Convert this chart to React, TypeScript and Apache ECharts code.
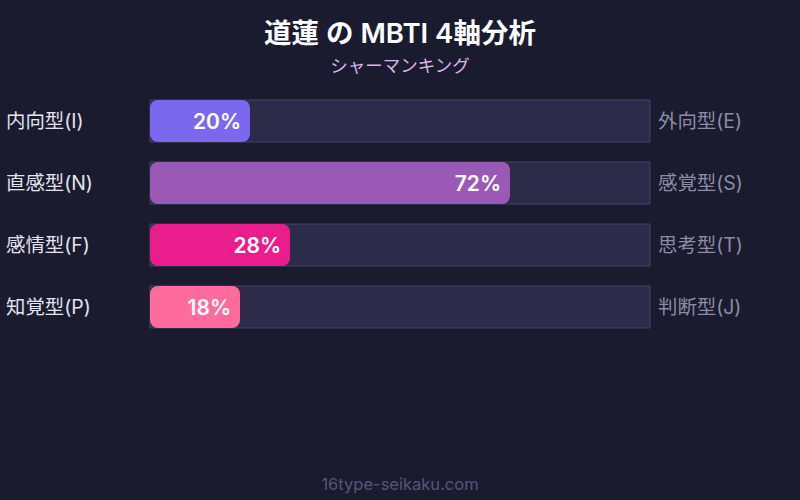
import * as echarts from "echarts";
import { useEffect, useRef } from "react";

const leftLabels = ["内向型(I)", "直感型(N)", "感情型(F)", "知覚型(P)"];
const rightLabels = ["外向型(E)", "感覚型(S)", "思考型(T)", "判断型(J)"];
const percentages = [20, 72, 28, 18];
const barColors = ["#7b68ee", "#9b59b6", "#e91e8c", "#ff6b9d"];

const fontFamily = "Inter, 'Noto Sans CJK JP', sans-serif";

function buildOption(): echarts.EChartsCoreOption {
  return {
    animation: false,
    backgroundColor: "#1a1b2e",
    textStyle: { fontFamily },
    title: [
      {
        text: "道蓮 の MBTI 4軸分析",
        left: "center",
        top: 14,
        textStyle: { color: "#ffffff", fontSize: 27.5, fontWeight: 600, fontFamily }
      },
      {
        text: "シャーマンキング",
        left: "center",
        top: 52,
        textStyle: { color: "#dcb4e8", fontSize: 17.5, fontWeight: "normal", fontFamily }
      },
      {
        text: "16type-seikaku.com",
        left: "center",
        top: 471,
        textStyle: { color: "#55577a", fontSize: 16.5, fontWeight: "normal", fontFamily }
      }
    ],
    grid: { left: 150, right: 150, top: 90, bottom: 162 },
    xAxis: {
      type: "value",
      min: 0,
      max: 100,
      show: false
    },
    yAxis: [
      {
        type: "category",
        data: leftLabels,
        inverse: true,
        axisLine: { show: false },
        axisTick: { show: false },
        axisLabel: {
          align: "left",
          margin: 144,
          color: "#e4e4ee",
          fontSize: 19.4,
          padding: [0, 0, 3, 0],
          fontFamily
        }
      },
      {
        type: "category",
        data: rightLabels,
        inverse: true,
        position: "right",
        axisLine: { show: false },
        axisTick: { show: false },
        axisLabel: {
          align: "left",
          margin: 8,
          color: "#8c8ca6",
          fontSize: 19.4,
          padding: [0, 0, 3, 0],
          fontFamily
        }
      }
    ],
    series: [
      {
        type: "bar",
        yAxisIndex: 0,
        barWidth: 42,
        data: percentages.map((value, index) => ({
          value,
          itemStyle: { color: barColors[index] }
        })),
        showBackground: true,
        backgroundStyle: {
          color: "#2d2b4a",
          borderColor: "#44426a",
          borderWidth: 1
        },
        itemStyle: { borderRadius: 8 },
        label: {
          show: true,
          position: "insideRight",
          distance: 9,
          formatter: "{c}%",
          color: "#ffffff",
          fontSize: 21,
          fontWeight: 600,
          fontFamily
        }
      }
    ]
  };
}

export default function App() {
  const elementRef = useRef<HTMLDivElement | null>(null);

  useEffect(() => {
    if (!elementRef.current) {
      return;
    }
    const chart = echarts.init(elementRef.current, undefined, { renderer: "svg" });
    chart.setOption(buildOption());
    return () => {
      chart.dispose();
    };
  }, []);

  return (
    <div
      ref={elementRef}
      style={{ position: "fixed", left: 0, top: 0, width: 800, height: 500 }}
    />
  );
}
